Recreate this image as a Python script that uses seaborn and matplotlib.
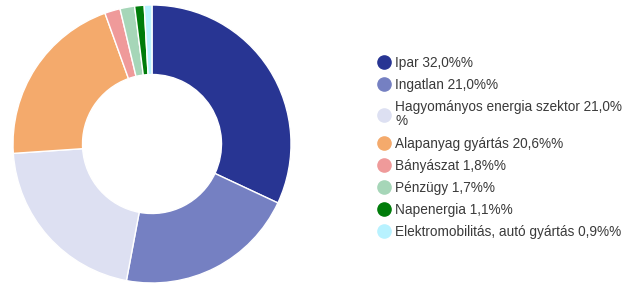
import matplotlib
matplotlib.use("Agg")
import matplotlib.pyplot as plt
import seaborn as sns
from matplotlib.lines import Line2D

categories = ["Ipar", "Ingatlan", "Hagyományos energia szektor", "Alapanyag gyártás",
              "Bányászat", "Pénzügy", "Napenergia", "Elektromobilitás, autó gyártás"]
values = [32.0, 21.0, 21.0, 20.6, 1.8, 1.7, 1.1, 0.9]
legend_labels = ["Ipar 32,0%%", "Ingatlan 21,0%%", "Hagyományos energia szektor 21,0%\n%",
                 "Alapanyag gyártás 20,6%%", "Bányászat 1,8%%", "Pénzügy 1,7%%",
                 "Napenergia 1,1%%", "Elektromobilitás, autó gyártás 0,9%%"]
colors = ["#283593", "#7580c2", "#dde0f2", "#f4aa6c", "#ef9a9a", "#a6d6b8", "#007c0a", "#b8f2ff"]

sns.set_style("white")
plt.rcParams["font.family"] = ["Liberation Sans", "DejaVu Sans"]

fig = plt.figure(figsize=(6.33, 2.87), dpi=100)
ax = fig.add_axes([13 / 633, 4 / 287, 278 / 633, 278 / 287])
ax.pie(values, colors=colors, startangle=90, counterclock=False, radius=1,
       wedgeprops=dict(width=0.5, edgecolor="white", linewidth=1))
ax.set_xlim(-1, 1)
ax.set_ylim(-1, 1)
ax.set_aspect("equal")
ax.axis("off")

handles = [Line2D([0], [0], marker="o", linestyle="", markersize=9.5,
                  markerfacecolor=c, markeredgecolor=c) for c in colors]
leg = fig.legend(handles, legend_labels, loc="upper left", bbox_to_anchor=(377 / 633, 1 - 55.5 / 287),
                 frameon=False, fontsize=9.8, labelspacing=0.6, handletextpad=0.25,
                 handlelength=1.1, borderaxespad=0, borderpad=0)
for t in leg.get_texts():
    t.set_color("#3a3a3a")
    t.set_linespacing(1.05)

fig.savefig("out.png", dpi=100)
